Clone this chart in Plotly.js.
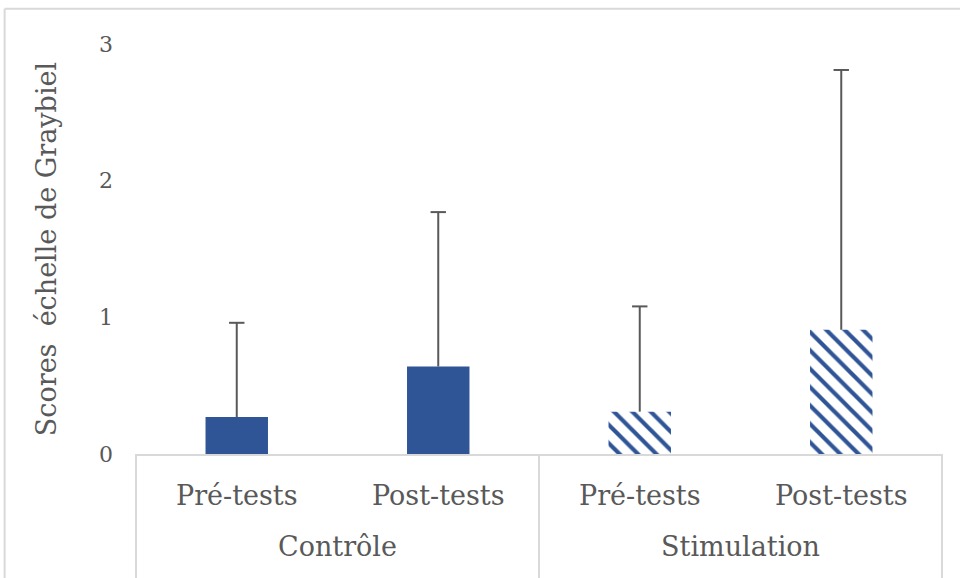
<!DOCTYPE html>
<html>
<head>
<meta charset="utf-8">
<script src="https://cdn.plot.ly/plotly-3.0.1.min.js"></script>
<style>html,body{margin:0;padding:0;background:#fff;}#chart{width:960px;height:578px;}</style>
</head>
<body>
<div id="chart"></div>
<script>
const groups = ["Contrôle", "Contrôle", "Stimulation", "Stimulation"];
const phases = ["Pré-tests", "Post-tests", "Pré-tests", "Post-tests"];
const means = [0.27, 0.64, 0.31, 0.91];
const errPlus = [0.69, 1.13, 0.77, 1.90];
const yTicks = [0, 1, 2, 3];

const blue = "#2F5597";
const textCol = "#595959";
const errCol = "#595959";
const lineCol = "#D9D9D9";
const font = "DejaVu Serif, Georgia, serif";

const tops = means.map((m, i) => m + errPlus[i]);
// Inner tick labels get an empty second line so the group labels sit lower
const xCats = [groups, phases.map(p => p + "<br> ")];

const bars = {
  type: "bar",
  x: xCats,
  y: means,
  marker: {
    color: blue,
    line: {width: 0},
    pattern: {
      shape: ["", "", "\\", "\\"],
      fgcolor: [blue, blue, blue, blue],
      bgcolor: ["#FFFFFF", "#FFFFFF", "#FFFFFF", "#FFFFFF"],
      fgopacity: 1,
      size: 13,
      solidity: 0.32,
      fillmode: "replace"
    }
  },
  error_y: {
    type: "data",
    symmetric: false,
    array: errPlus,
    arrayminus: [0, 0, 0, 0],
    color: errCol,
    thickness: 2,
    width: 0
  },
  hoverinfo: "skip"
};

const caps = {
  type: "scatter",
  mode: "markers",
  x: xCats,
  y: tops,
  marker: {symbol: "line-ew-open", size: 11, color: errCol, line: {color: errCol, width: 2}},
  hoverinfo: "skip"
};

const divider = x => ({type: "line", xref: "paper", yref: "paper", x0: x, x1: x, y0: 0, y1: -0.31, line: {color: lineCol, width: 2}});

const layout = {
  width: 960,
  height: 578,
  margin: {l: 136, r: 18, t: 44, b: 124},
  paper_bgcolor: "#FFFFFF",
  plot_bgcolor: "#FFFFFF",
  showlegend: false,
  bargap: 0.69,
  font: {family: font, color: textCol, size: 22},
  xaxis: {
    type: "multicategory",
    showline: true,
    linecolor: lineCol,
    linewidth: 2,
    showgrid: false,
    zeroline: false,
    ticks: "",
    ticklabelstandoff: 17,
    showdividers: true,
    dividercolor: lineCol,
    dividerwidth: 2,
    tickfont: {family: font, size: 27, color: textCol}
  },
  yaxis: {
    range: [0, 3],
    tickvals: yTicks,
    ticktext: yTicks.map(String),
    showgrid: false,
    zeroline: false,
    showline: false,
    ticks: "",
    ticklabelstandoff: 22,
    tickfont: {family: font, size: 22, color: textCol},
    title: {text: "Scores  échelle de Graybiel", font: {family: font, size: 27, color: textCol}, standoff: 34}
  },
  shapes: [
    {type: "line", xref: "paper", yref: "paper", x0: -0.163, x1: 1.03, y0: 1.086, y1: 1.086, line: {color: lineCol, width: 2}},
    {type: "line", xref: "paper", yref: "paper", x0: -0.163, x1: -0.163, y0: 1.086, y1: -0.4, line: {color: lineCol, width: 2}},
    divider(0), divider(0.5), divider(1)
  ]
};

Plotly.newPlot("chart", [bars, caps], layout, {staticPlot: true, displayModeBar: false});
</script>
</body>
</html>
